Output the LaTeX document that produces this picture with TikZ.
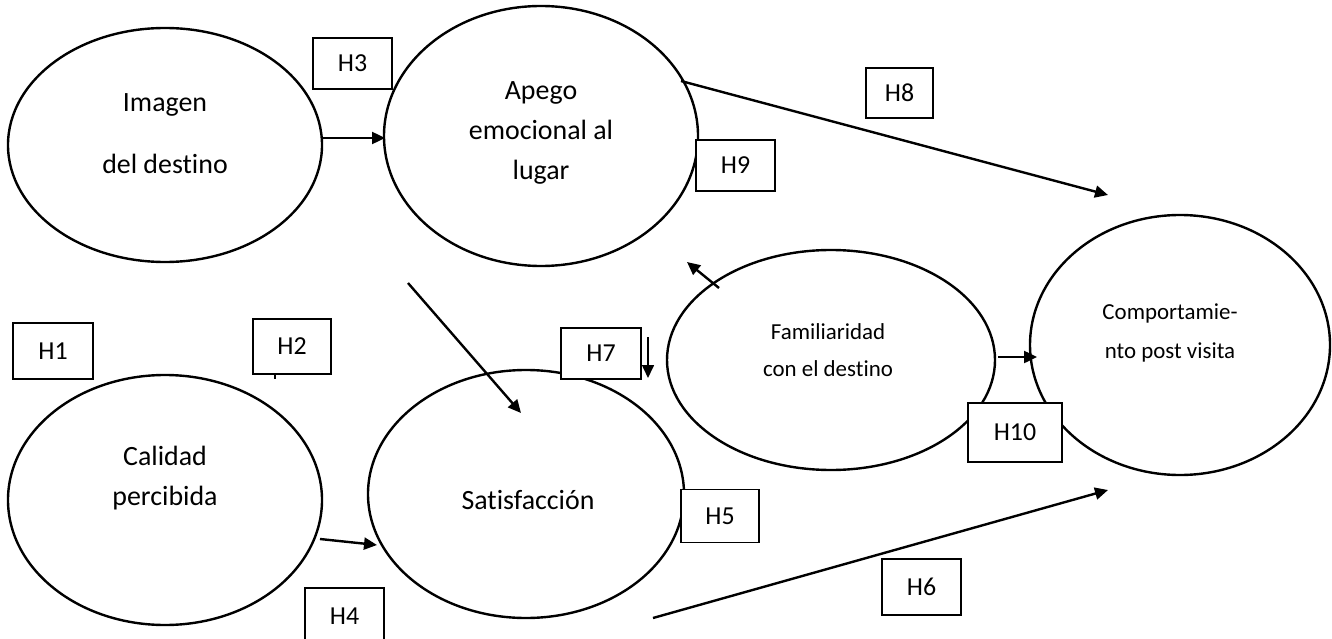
\documentclass[tikz,border=0pt]{standalone}
\usepackage{fontspec}
\setmainfont{Carlito}[Ligatures={NoCommon}]
\usetikzlibrary{shapes.geometric,arrows.meta}

\tikzset{
  constructo/.style={ellipse, draw, line width=2.4bp, inner sep=0pt},
  rotulo/.style={align=center, inner sep=0pt},
  hipotesis/.style={draw, fill=white, line width=1.8bp, inner sep=0pt,
    font=\fontsize{26}{30}\selectfont},
  flecha/.style={-{Triangle[length=13bp,width=12bp]}, line width=2.4bp},
}

\begin{document}
\begin{tikzpicture}[x=1bp, y=-1bp]

    \useasboundingbox (0,0) rectangle (1332,639);

    % --- Constructos ---
    \node[constructo, minimum width=314bp, minimum height=234bp] (imagen) at (165,145) {};
    \node[constructo, minimum width=314bp, minimum height=260bp] (apego) at (541,136) {};
    \node[constructo, minimum width=314bp, minimum height=250bp] (calidad) at (165,500) {};
    \node[constructo, minimum width=316bp, minimum height=248bp] (satisfaccion) at (526,494) {};
    \node[constructo, minimum width=328bp, minimum height=220bp] (familiaridad) at (831,360) {};
    \node[constructo, minimum width=300bp, minimum height=260bp] (comportamiento) at (1180,345) {};

    % Textos de los constructos
    \node[rotulo, font=\fontsize{28}{62}\selectfont] (imagenTxt) at (165,134) {Imagen\\del destino};
    \node[rotulo, font=\fontsize{28}{40}\selectfont] (apegoTxt) at (541,133) {Apego\\emocional al\\lugar};
    \node[rotulo, font=\fontsize{28}{40}\selectfont] (calidadTxt) at (165,478) {Calidad\\percibida};
    \node[rotulo, font=\fontsize{28}{30}\selectfont] (satisfaccionTxt) at (528,500) {Satisfacción};
    \node[rotulo, font=\fontsize{23}{37}\selectfont] (familiaridadTxt) at (828,350) {Familiaridad\\con el destino};
    \node[rotulo, font=\fontsize{23}{39}\selectfont] (comportamientoTxt) at (1170,333) {Comportamie-\\nto post visita};

    % --- Extremos de las flechas ---
    \coordinate (imagenSal) at (322,138);
    \coordinate (apegoEnt) at (385,138);
    \coordinate (apegoSal) at (681,81);
    \coordinate (compArriba) at (1108,195);
    \coordinate (diagIni) at (408,283);
    \coordinate (diagFin) at (521,413);
    \coordinate (famSal) at (719,288);
    \coordinate (famFin) at (687,262);
    \coordinate (h7Ini) at (648,337);
    \coordinate (h7Fin) at (648,378);
    \coordinate (famDer) at (998,357);
    \coordinate (compIzq) at (1037,357);
    \coordinate (calidadSal) at (320,539);
    \coordinate (satisEnt) at (377,545);
    \coordinate (satisSal) at (653,618);
    \coordinate (compAbajo) at (1108,490);
    \coordinate (marcaA) at (275,373);
    \coordinate (marcaB) at (275,379);

    % --- Flechas ---
    \draw[flecha] (imagenSal) -- (apegoEnt);
    \draw[flecha] (apegoSal) -- (compArriba);
    \draw[flecha] (diagIni) -- (diagFin);
    \draw[flecha] (famSal) -- (famFin);
    \draw[flecha, line width=1.6bp] (h7Ini) -- (h7Fin);
    \draw[flecha] (famDer) -- (compIzq);
    \draw[flecha] (calidadSal) -- (satisEnt);
    \draw[flecha] (satisSal) -- (compAbajo);
    \draw[line width=1.6bp] (marcaA) -- (marcaB);

    % --- Hipotesis ---
    \node[hipotesis, minimum width=80bp, minimum height=56bp] (h1) at (53,351) {H1};
    \node[hipotesis, minimum width=78bp, minimum height=55bp] (h2) at (292,346.5) {H2};
    \node[hipotesis, minimum width=79bp, minimum height=51bp] (h3) at (352.5,63.5) {H3};
    \node[hipotesis, minimum width=79bp, minimum height=57bp] (h4) at (344.5,616.5) {H4};
    \node[hipotesis, minimum width=78bp, minimum height=53bp] (h5) at (720,516) {H5};
    \node[hipotesis, minimum width=79bp, minimum height=56bp] (h6) at (921.5,587) {H6};
    \node[hipotesis, minimum width=80bp, minimum height=51bp] (h7) at (601,353.5) {H7};
    \node[hipotesis, minimum width=67bp, minimum height=50bp] (h8) at (899.5,93) {H8};
    \node[hipotesis, minimum width=79bp, minimum height=51bp] (h9) at (735.5,165.5) {H9};
    \node[hipotesis, minimum width=94bp, minimum height=59bp] (h10) at (1015,432.5) {H10};

\end{tikzpicture}
\end{document}
